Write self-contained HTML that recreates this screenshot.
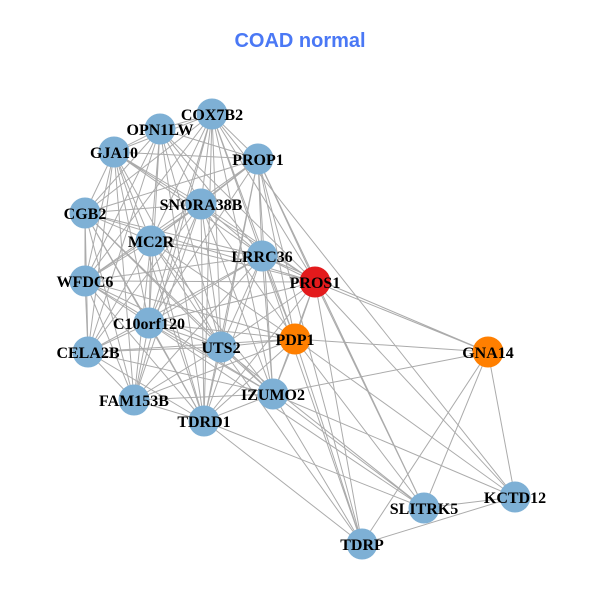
<!DOCTYPE html>
<html>
<head>
<meta charset="utf-8">
<style>
html,body{margin:0;padding:0;background:#fff;}
svg{display:block;}
.lb{font-family:"Liberation Serif",serif;font-weight:bold;font-size:16px;fill:#000;text-anchor:middle;}
</style>
</head>
<body>
<svg width="600" height="600" viewBox="0 0 600 600" xmlns="http://www.w3.org/2000/svg">
<rect width="600" height="600" fill="#fff"/>
<text x="300" y="47" text-anchor="middle" style="font-family:'Liberation Sans',sans-serif;font-weight:bold;font-size:20px;fill:#4a78f5;">COAD normal</text>
<g fill="none" stroke="#ababab" stroke-width="1">
<path d="M212 114L160 129M212 114L114 152M212 114L258 159M212 114L201 204M212 114L85 213M212 114L151 241M212 114L262 256M212 114L315 282M212 114L85 281M212 114L149 323M212 114L295 339M212 114L221 347M212 114L273 394M212 114L134 400M212 114L204 421"/>
<path d="M160 129L114 152M160 129L258 159M160 129L201 204M160 129L85 213M160 129L151 241M160 129L262 256M160 129L315 282M160 129L85 281M160 129L149 323M160 129L88 352M160 129L221 347M160 129L204 421"/>
<path d="M114 152L258 159M114 152L201 204M114 152L85 213M114 152L151 241M114 152L262 256M114 152L315 282M114 152L85 281M114 152L149 323M114 152L88 352M114 152L221 347M114 152L134 400M114 152L204 421"/>
<path d="M258 159L201 204M258 159L85 213M258 159L151 241M258 159L262 256M258 159L315 282M258 159L85 281M258 159L149 323M258 159L295 339M258 159L221 347M258 159L273 394M258 159L204 421"/>
<path d="M201 204L85 213M201 204L151 241M201 204L262 256M201 204L315 282M201 204L85 281M201 204L149 323M201 204L295 339M201 204L88 352M201 204L221 347M201 204L273 394M201 204L134 400M201 204L204 421"/>
<path d="M85 213L151 241M85 213L262 256M85 213L315 282M85 213L85 281M85 213L149 323M85 213L88 352M85 213L221 347M85 213L273 394M85 213L134 400M85 213L204 421"/>
<path d="M151 241L262 256M151 241L315 282M151 241L85 281M151 241L149 323M151 241L295 339M151 241L88 352M151 241L221 347M151 241L273 394M151 241L134 400M151 241L204 421"/>
<path d="M262 256L315 282M262 256L85 281M262 256L149 323M262 256L295 339M262 256L88 352M262 256L221 347M262 256L273 394M262 256L134 400M262 256L204 421"/>
<path d="M315 282L85 281M315 282L149 323M315 282L295 339M315 282L221 347M315 282L273 394M315 282L204 421"/>
<path d="M85 281L149 323M85 281L295 339M85 281L88 352M85 281L221 347M85 281L273 394M85 281L134 400M85 281L204 421"/>
<path d="M149 323L295 339M149 323L88 352M149 323L221 347M149 323L273 394M149 323L134 400M149 323L204 421"/>
<path d="M295 339L88 352M295 339L221 347M295 339L273 394M295 339L134 400M295 339L204 421"/>
<path d="M88 352L221 347M88 352L273 394M88 352L134 400M88 352L204 421"/>
<path d="M221 347L273 394M221 347L134 400M221 347L204 421M273 394L134 400M273 394L204 421M134 400L204 421"/>
<path d="M315 282L488 352M262 256L488 352M295 339L488 352M273 394L488 352M488 352L515 497M488 352L424 508M488 352L362 544"/>
<path d="M315 282L362 544M295 339L362 544M273 394L362 544M204 421L362 544M221 347L362 544M258 159L362 544M262 256L362 544"/>
<path d="M315 282L424 508M258 159L424 508M273 394L424 508M221 347L424 508M149 323L424 508M204 421L424 508M295 339L424 508"/>
<path d="M315 282L515 497M295 339L515 497M273 394L515 497M212 114L515 497M424 508L515 497M362 544L515 497"/>
</g>
<g stroke="none">
<circle cx="212" cy="114" r="15.5" fill="#7eb0d5"/>
<circle cx="160" cy="129" r="15.5" fill="#7eb0d5"/>
<circle cx="114" cy="152" r="15.5" fill="#7eb0d5"/>
<circle cx="258" cy="159" r="15.5" fill="#7eb0d5"/>
<circle cx="201" cy="204" r="15.5" fill="#7eb0d5"/>
<circle cx="85" cy="213" r="15.5" fill="#7eb0d5"/>
<circle cx="151" cy="241" r="15.5" fill="#7eb0d5"/>
<circle cx="262" cy="256" r="15.5" fill="#7eb0d5"/>
<circle cx="315" cy="282" r="15.5" fill="#e31a1c"/>
<circle cx="85" cy="281" r="15.5" fill="#7eb0d5"/>
<circle cx="149" cy="323" r="15.5" fill="#7eb0d5"/>
<circle cx="295" cy="339" r="15.5" fill="#ff7f00"/>
<circle cx="488" cy="352" r="15.5" fill="#ff7f00"/>
<circle cx="88" cy="352" r="15.5" fill="#7eb0d5"/>
<circle cx="221" cy="347" r="15.5" fill="#7eb0d5"/>
<circle cx="273" cy="394" r="15.5" fill="#7eb0d5"/>
<circle cx="134" cy="400" r="15.5" fill="#7eb0d5"/>
<circle cx="204" cy="421" r="15.5" fill="#7eb0d5"/>
<circle cx="424" cy="508" r="15.5" fill="#7eb0d5"/>
<circle cx="515" cy="497" r="15.5" fill="#7eb0d5"/>
<circle cx="362" cy="544" r="15.5" fill="#7eb0d5"/>
</g>
<g class="lb">
<text class="lb" x="212" y="120">COX7B2</text>
<text class="lb" x="160" y="135">OPN1LW</text>
<text class="lb" x="114" y="158">GJA10</text>
<text class="lb" x="258" y="165">PROP1</text>
<text class="lb" x="201" y="210">SNORA38B</text>
<text class="lb" x="85" y="219">CGB2</text>
<text class="lb" x="151" y="247">MC2R</text>
<text class="lb" x="262" y="262">LRRC36</text>
<text class="lb" x="315" y="288">PROS1</text>
<text class="lb" x="85" y="287">WFDC6</text>
<text class="lb" x="149" y="329">C10orf120</text>
<text class="lb" x="295" y="345">PDP1</text>
<text class="lb" x="488" y="358">GNA14</text>
<text class="lb" x="88" y="358">CELA2B</text>
<text class="lb" x="221" y="353">UTS2</text>
<text class="lb" x="273" y="400">IZUMO2</text>
<text class="lb" x="134" y="406">FAM153B</text>
<text class="lb" x="204" y="427">TDRD1</text>
<text class="lb" x="424" y="514">SLITRK5</text>
<text class="lb" x="515" y="503">KCTD12</text>
<text class="lb" x="362" y="550">TDRP</text>
</g>
</svg>
</body>
</html>
